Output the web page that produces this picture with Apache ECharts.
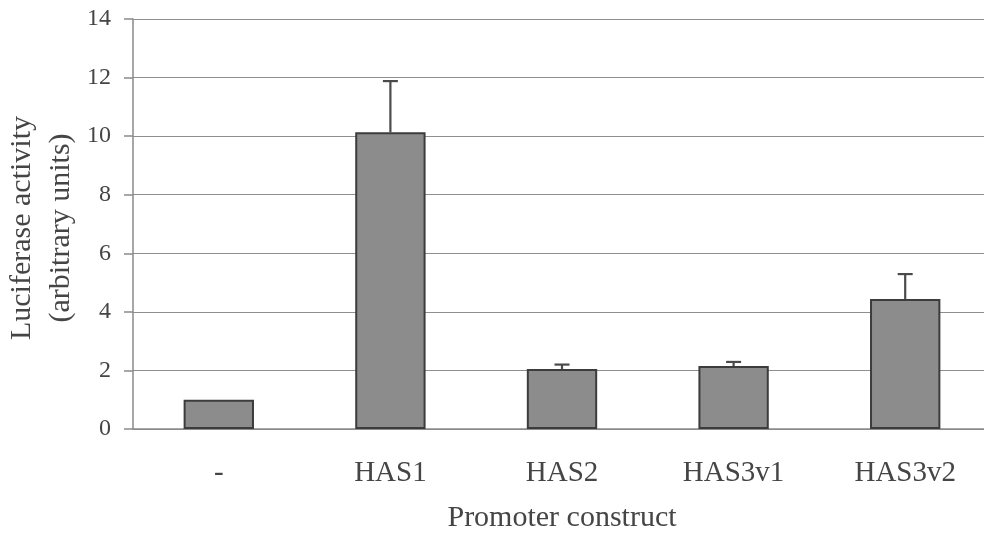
<!DOCTYPE html>
<html>
<head>
<meta charset="utf-8">
<style>
  html, body { margin: 0; padding: 0; background: #ffffff; }
  #chart { width: 984px; height: 533px; }
</style>
<script src="https://cdn.jsdelivr.net/npm/echarts@6/dist/echarts.min.js"></script>
</head>
<body>
<div id="chart"></div>
<script>
// Promoter constructs and their mean luciferase activity
const constructs = ['-', 'HAS1', 'HAS2', 'HAS3v1', 'HAS3v2'];
const activity = [1.0, 10.13, 2.05, 2.15, 4.44];
// Upper error (standard deviation) for each construct
const errorUp = [0, 1.75, 0.15, 0.14, 0.85];
const yTicks = { min: 0, max: 14, step: 2 };

const serif = '"Liberation Serif", "DejaVu Serif", serif';
const textColor = '#454545';

const chart = echarts.init(document.getElementById('chart'), null, { renderer: 'canvas' });

const errorData = constructs.map((c, i) => [i, activity[i], activity[i] + errorUp[i]]);

chart.setOption({
  backgroundColor: '#ffffff',
  animation: false,
  // the plot runs a little past the right edge of the canvas
  grid: { left: 133, width: 858, top: 19, bottom: 104, containLabel: false, outerBoundsMode: 'none' },
  xAxis: {
    type: 'category',
    data: constructs,
    axisLine: { show: true, lineStyle: { color: '#8a8a8a', width: 1.5 } },
    axisTick: { show: false },
    axisLabel: { fontFamily: serif, fontSize: 29, color: textColor, margin: 30 },
    name: 'Promoter construct',
    nameLocation: 'middle',
    nameGap: 74,
    nameTextStyle: { fontFamily: serif, fontSize: 30, color: textColor }
  },
  yAxis: {
    type: 'value',
    min: yTicks.min,
    max: yTicks.max,
    interval: yTicks.step,
    axisLine: { show: true, lineStyle: { color: '#8a8a8a', width: 1.5 } },
    axisTick: { show: true, length: 9, lineStyle: { color: '#8a8a8a', width: 1.5 } },
    axisLabel: { fontFamily: serif, fontSize: 24, color: textColor, margin: 22 },
    splitLine: { show: true, lineStyle: { color: '#8f8f8f', width: 1.2 } }
  },
  graphic: [
    {
      type: 'text',
      x: 22, y: 228,
      rotation: Math.PI / 2,
      style: {
        text: 'Luciferase activity',
        font: '30px ' + serif,
        fill: textColor,
        align: 'center',
        verticalAlign: 'middle'
      }
    },
    {
      type: 'text',
      x: 61, y: 228,
      rotation: Math.PI / 2,
      style: {
        text: '(arbitrary units)',
        font: '30px ' + serif,
        fill: textColor,
        align: 'center',
        verticalAlign: 'middle'
      }
    }
  ],
  series: [
    {
      type: 'bar',
      data: activity,
      barWidth: '41%',
      itemStyle: { color: '#8c8c8c', borderColor: '#3c3c3c', borderWidth: 2 },
      z: 2
    },
    {
      type: 'custom',
      data: errorData,
      z: 3,
      renderItem: function (params, api) {
        const x = api.value(0);
        const base = api.coord([x, api.value(1)]);
        const top = api.coord([x, api.value(2)]);
        if (Math.abs(base[1] - top[1]) < 0.5) return null;
        const half = 7.5;
        const style = { stroke: '#4a4a4a', lineWidth: 2.2 };
        return {
          type: 'group',
          children: [
            { type: 'line', shape: { x1: base[0], y1: base[1], x2: top[0], y2: top[1] }, style: style },
            { type: 'line', shape: { x1: top[0] - half, y1: top[1], x2: top[0] + half, y2: top[1] }, style: style }
          ]
        };
      }
    }
  ]
});
</script>
</body>
</html>
